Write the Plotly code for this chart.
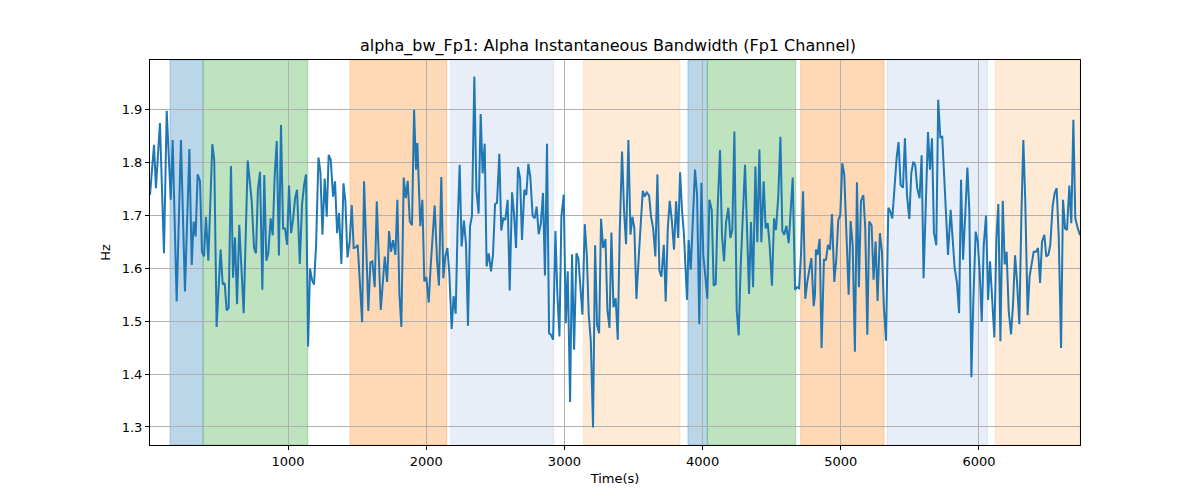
import plotly.graph_objects as go

title = "alpha_bw_Fp1: Alpha Instantaneous Bandwidth (Fp1 Channel)"

time_s = [
    1, 30, 44, 73, 102, 122, 151, 165, 194, 225, 254, 286, 303, 317, 331, 346, 363, 377, 392, 406,
    423, 452, 466, 483, 512, 527, 541, 556, 570, 587, 602, 616, 631, 647, 679, 708, 737, 754, 768, 782,
    797, 814, 828, 843, 857, 874, 889, 903, 918, 934, 949, 964, 978, 993, 1007, 1022, 1036, 1051, 1065, 1085,
    1101, 1116, 1130, 1145, 1159, 1174, 1188, 1203, 1220, 1234, 1249, 1265, 1280, 1294, 1309, 1326, 1340, 1355, 1369, 1386,
    1401, 1415, 1430, 1446, 1461, 1475, 1490, 1504, 1536, 1550, 1581, 1596, 1610, 1627, 1642, 1671, 1700, 1717, 1731, 1745,
    1760, 1777, 1791, 1806, 1820, 1837, 1852, 1866, 1881, 1897, 1912, 1926, 1936, 1943, 1957, 1972, 1986, 2001, 2018, 2032,
    2061, 2078, 2092, 2109, 2124, 2138, 2153, 2167, 2184, 2198, 2213, 2227, 2242, 2256, 2273, 2288, 2302, 2317, 2331, 2348,
    2363, 2379, 2394, 2408, 2423, 2437, 2452, 2469, 2483, 2498, 2512, 2529, 2543, 2558, 2572, 2589, 2604, 2621, 2635, 2650,
    2664, 2679, 2693, 2710, 2724, 2739, 2753, 2770, 2785, 2799, 2814, 2830, 2845, 2859, 2874, 2889, 2903, 2918, 2935, 2949,
    2964, 2978, 2995, 3010, 3024, 3041, 3055, 3070, 3087, 3101, 3116, 3130, 3147, 3162, 3176, 3191, 3207, 3222, 3236, 3251,
    3265, 3280, 3297, 3311, 3326, 3340, 3355, 3371, 3386, 3400, 3417, 3432, 3446, 3463, 3478, 3492, 3506, 3521, 3538, 3552,
    3567, 3581, 3596, 3613, 3627, 3642, 3658, 3673, 3687, 3702, 3719, 3733, 3748, 3762, 3777, 3793, 3808, 3823, 3837, 3851,
    3865, 3887, 3899, 3914, 3928, 3945, 3960, 3976, 3991, 4005, 4020, 4034, 4049, 4066, 4080, 4095, 4109, 4126, 4140, 4155,
    4169, 4186, 4201, 4215, 4230, 4247, 4261, 4275, 4307, 4321, 4336, 4350, 4365, 4382, 4396, 4411, 4425, 4442, 4456, 4471,
    4485, 4502, 4517, 4531, 4548, 4563, 4577, 4591, 4606, 4623, 4637, 4652, 4669, 4683, 4698, 4712, 4727, 4743, 4758, 4772,
    4787, 4804, 4813, 4820, 4832, 4847, 4861, 4878, 4893, 4907, 4922, 4936, 4953, 4967, 4982, 4996, 5011, 5025, 5042, 5057,
    5071, 5086, 5102, 5117, 5131, 5146, 5163, 5177, 5192, 5206, 5223, 5237, 5252, 5266, 5283, 5298, 5312, 5327, 5344, 5358,
    5373, 5389, 5404, 5418, 5433, 5450, 5464, 5479, 5496, 5510, 5525, 5539, 5553, 5570, 5585, 5599, 5614, 5631, 5645, 5660,
    5674, 5691, 5705, 5720, 5734, 5749, 5766, 5776, 5795, 5810, 5824, 5841, 5856, 5870, 5885, 5901, 5916, 5930, 5945, 5959,
    5976, 5991, 6005, 6020, 6034, 6051, 6066, 6080, 6095, 6111, 6126, 6140, 6155, 6172, 6186, 6200, 6215, 6232, 6246, 6261,
    6275, 6292, 6307, 6321, 6335, 6352, 6366, 6381, 6396, 6413, 6427, 6442, 6456, 6473, 6487, 6502, 6516, 6533, 6548, 6562,
    6577, 6594, 6608, 6623, 6637, 6654, 6668, 6683, 6697, 6712, 6731,
]

bandwidth_hz = [
    1.738, 1.833, 1.751, 1.874, 1.628, 1.897, 1.729, 1.842, 1.537, 1.842, 1.556, 1.825, 1.606, 1.688, 1.660, 1.777, 1.764, 1.631, 1.622, 1.697,
    1.614, 1.834, 1.804, 1.489, 1.635, 1.569, 1.572, 1.520, 1.525, 1.793, 1.582, 1.658, 1.532, 1.682, 1.515, 1.803, 1.726, 1.638, 1.628, 1.748,
    1.782, 1.559, 1.776, 1.614, 1.628, 1.694, 1.662, 1.773, 1.840, 1.624, 1.870, 1.675, 1.675, 1.644, 1.756, 1.666, 1.691, 1.732, 1.748, 1.608,
    1.719, 1.757, 1.777, 1.452, 1.599, 1.577, 1.569, 1.644, 1.809, 1.782, 1.663, 1.769, 1.697, 1.814, 1.804, 1.735, 1.764, 1.666, 1.704, 1.608,
    1.760, 1.726, 1.620, 1.650, 1.719, 1.638, 1.639, 1.644, 1.498, 1.764, 1.519, 1.611, 1.613, 1.564, 1.726, 1.521, 1.622, 1.574, 1.670, 1.631,
    1.653, 1.625, 1.729, 1.550, 1.489, 1.771, 1.732, 1.765, 1.688, 1.681, 1.899, 1.786, 1.836, 1.786, 1.679, 1.729, 1.575, 1.583, 1.535, 1.603,
    1.718, 1.616, 1.567, 1.772, 1.581, 1.622, 1.638, 1.591, 1.485, 1.547, 1.514, 1.679, 1.795, 1.641, 1.690, 1.644, 1.491, 1.679, 1.699, 1.962,
    1.748, 1.703, 1.891, 1.779, 1.835, 1.603, 1.628, 1.594, 1.625, 1.721, 1.723, 1.816, 1.671, 1.694, 1.691, 1.729, 1.558, 1.743, 1.704, 1.638,
    1.791, 1.770, 1.653, 1.748, 1.738, 1.797, 1.773, 1.699, 1.694, 1.716, 1.664, 1.685, 1.742, 1.586, 1.835, 1.477, 1.474, 1.465, 1.670, 1.550,
    1.471, 1.697, 1.739, 1.496, 1.594, 1.347, 1.626, 1.446, 1.628, 1.618, 1.569, 1.512, 1.683, 1.625, 1.512, 1.462, 1.299, 1.643, 1.493, 1.477,
    1.693, 1.638, 1.655, 1.521, 1.487, 1.667, 1.526, 1.543, 1.465, 1.666, 1.820, 1.706, 1.645, 1.842, 1.663, 1.697, 1.675, 1.542, 1.622, 1.675,
    1.746, 1.735, 1.743, 1.737, 1.697, 1.675, 1.622, 1.777, 1.596, 1.584, 1.644, 1.537, 1.675, 1.727, 1.691, 1.635, 1.726, 1.657, 1.781, 1.709,
    1.663, 1.540, 1.653, 1.597, 1.688, 1.786, 1.738, 1.494, 1.761, 1.625, 1.584, 1.542, 1.729, 1.710, 1.567, 1.570, 1.713, 1.823, 1.663, 1.613,
    1.685, 1.714, 1.657, 1.672, 1.858, 1.519, 1.473, 1.600, 1.795, 1.682, 1.551, 1.687, 1.564, 1.792, 1.649, 1.824, 1.649, 1.764, 1.675, 1.685,
    1.644, 1.567, 1.694, 1.672, 1.738, 1.848, 1.670, 1.663, 1.680, 1.647, 1.700, 1.771, 1.559, 1.564, 1.562, 1.626, 1.745, 1.542, 1.575, 1.600,
    1.619, 1.528, 1.550, 1.635, 1.625, 1.655, 1.449, 1.616, 1.616, 1.644, 1.635, 1.702, 1.574, 1.616, 1.691, 1.700, 1.798, 1.777, 1.663, 1.550,
    1.689, 1.644, 1.442, 1.762, 1.564, 1.727, 1.738, 1.675, 1.474, 1.688, 1.681, 1.578, 1.650, 1.538, 1.666, 1.631, 1.525, 1.463, 1.714, 1.707,
    1.694, 1.752, 1.808, 1.838, 1.757, 1.752, 1.845, 1.738, 1.693, 1.779, 1.801, 1.794, 1.751, 1.732, 1.813, 1.581, 1.726, 1.857, 1.786, 1.845,
    1.667, 1.643, 1.918, 1.847, 1.848, 1.764, 1.688, 1.625, 1.710, 1.650, 1.600, 1.572, 1.515, 1.767, 1.616, 1.704, 1.790, 1.710, 1.394, 1.537,
    1.669, 1.650, 1.594, 1.499, 1.641, 1.699, 1.540, 1.613, 1.550, 1.469, 1.657, 1.721, 1.462, 1.727, 1.607, 1.631, 1.519, 1.475, 1.530, 1.624,
    1.575, 1.494, 1.701, 1.842, 1.726, 1.511, 1.584, 1.607, 1.631, 1.631, 1.638, 1.572, 1.650, 1.663, 1.622, 1.625, 1.644, 1.717, 1.742, 1.751,
    1.660, 1.449, 1.729, 1.675, 1.672, 1.756, 1.685, 1.880, 1.694, 1.678, 1.662,
]

# shaded segments: start, end, colour
band_start = [146, 386, 1449, 2177, 3137, 3894, 4034, 4710, 5334, 6116]
band_end = [385, 1143, 2148, 2923, 3836, 4034, 4674, 5313, 6063, 6731]
band_color = ["#1f77b4", "#2ca02c", "#ff7f0e", "#aec7e8", "#ffbb78",
              "#1f77b4", "#2ca02c", "#ff7f0e", "#aec7e8", "#ffbb78"]

x_ticks = [1000, 2000, 3000, 4000, 5000, 6000]
y_ticks = [1.3, 1.4, 1.5, 1.6, 1.7, 1.8, 1.9]


def _rgba(hex_col, a):
    h = hex_col.lstrip("#")
    r, g, b = int(h[0:2], 16), int(h[2:4], 16), int(h[4:6], 16)
    return f"rgba({r},{g},{b},{a})"


fig = go.Figure()
fig.add_trace(
    go.Scatter(
        x=time_s,
        y=bandwidth_hz,
        mode="lines",
        line=dict(color="#1f77b4", width=2),
        hoverinfo="skip",
        showlegend=False,
    )
)

for x0, x1, col in zip(band_start, band_end, band_color):
    fig.add_shape(
        type="rect",
        xref="x",
        yref="paper",
        x0=x0,
        x1=x1,
        y0=0,
        y1=1,
        fillcolor=_rgba(col, 0.3),
        line=dict(color=_rgba(col, 0.3), width=1),
        layer="below",
    )

axis_common = dict(
    showline=True,
    linecolor="black",
    linewidth=1,
    mirror=True,
    ticks="outside",
    ticklen=4,
    tickcolor="black",
    showgrid=True,
    gridcolor="#b0b0b0",
    gridwidth=1,
    zeroline=False,
    tickfont=dict(size=13, color="black"),
)

# the page body adds an 8px offset, so margins are shifted to compensate
fig.update_layout(
    width=1200,
    height=500,
    margin=dict(l=142, r=128, t=52, b=63),
    paper_bgcolor="white",
    plot_bgcolor="rgba(0,0,0,0)",
    font=dict(family="DejaVu Sans", color="black"),
    title=dict(text=title, x=0.5, xanchor="center", y=0.925, yanchor="middle",
               font=dict(size=16, color="black")),
    xaxis=dict(axis_common, range=[1, 6731], tickvals=x_ticks,
               title=dict(text="Time(s)", font=dict(size=13), standoff=6)),
    yaxis=dict(axis_common, range=[1.266, 1.993], tickvals=y_ticks,
               tickformat=".1f",
               title=dict(text="Hz", font=dict(size=13), standoff=8)),
    showlegend=False,
)

fig.write_html("out.html")
